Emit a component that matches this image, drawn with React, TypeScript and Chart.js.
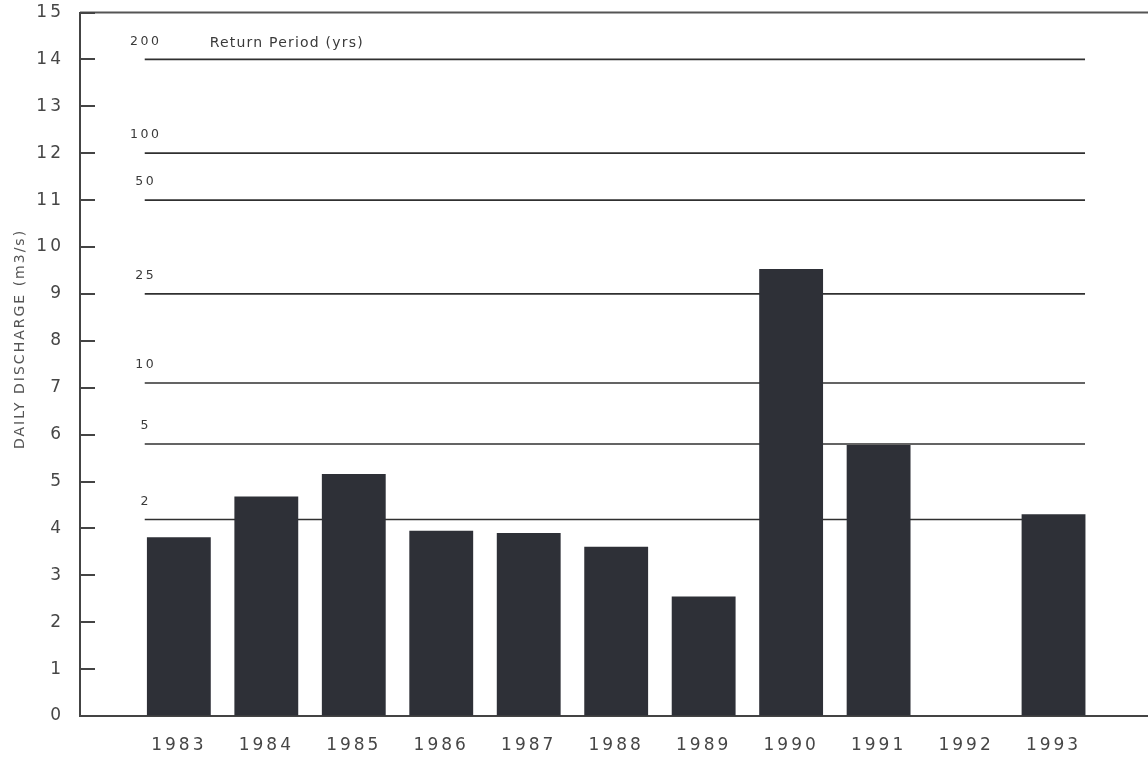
import React, { useEffect, useRef } from 'react';
import { Chart, registerables } from 'chart.js';

Chart.register(...registerables);

// ---- data ----
const years = [1983, 1984, 1985, 1986, 1987, 1988, 1989, 1990, 1991, 1992, 1993];
const discharge = [3.81, 4.68, 5.16, 3.95, 3.9, 3.61, 2.55, 9.53, 5.78, 0, 4.3];
const returnPeriodLabels = ['200', '100', '50', '25', '10', '5', '2'];
const returnPeriodDischarge = [14, 12, 11, 9, 7.1, 5.8, 4.19];
const returnPeriodTitle = 'Return Period (yrs)';
const yAxisTitle = 'DAILY DISCHARGE (m3/s)';

// axis extents (in data units)
const X_MIN = 1981.87;
const X_MAX = 1994.08;
const LINE_START = 1982.61;
const LINE_END = 1993.36;
const Y_MIN = 0;
const Y_MAX = 15;

const TEXT_COLOR = '#464646';
const AXIS_COLOR = '#444444';
const BAR_COLOR = '#2e3037';
const LINE_COLOR = '#303030';

const decorPlugin = {
  id: 'decor',
  beforeDraw(chart: any) {
    (chart.ctx as any).letterSpacing = '3px';
  },
  afterDraw(chart: any) {
    const ctx = chart.ctx as any;
    const { chartArea } = chart;
    const x = chart.scales.x;
    const y = chart.scales.y;
    ctx.save();
    // top border
    ctx.strokeStyle = '#555555';
    ctx.lineWidth = 2;
    ctx.beginPath();
    ctx.moveTo(chartArea.left, chartArea.top);
    ctx.lineTo(chart.width, chartArea.top);
    ctx.stroke();
    // inward tick marks on y axis
    ctx.strokeStyle = AXIS_COLOR;
    ctx.lineWidth = 2;
    y.ticks.forEach((t: any) => {
      const py = Math.round(y.getPixelForValue(t.value));
      ctx.beginPath();
      ctx.moveTo(chartArea.left, py);
      ctx.lineTo(chartArea.left + 15, py);
      ctx.stroke();
    });
    // return period labels
    ctx.fillStyle = '#3a3a3a';
    ctx.textBaseline = 'middle';
    ctx.textAlign = 'center';
    ctx.font = '12.5px "DejaVu Sans"';
    ctx.letterSpacing = '2.5px';
    const lx = x.getPixelForValue(LINE_START);
    returnPeriodLabels.forEach((lab, i) => {
      const py = y.getPixelForValue(returnPeriodDischarge[i]) - 18;
      ctx.fillText(lab, lx + 1, py);
    });
    // return period title
    ctx.textAlign = 'left';
    ctx.font = '14px "DejaVu Sans"';
    ctx.letterSpacing = '1.2px';
    ctx.fillText(returnPeriodTitle, lx + 65, y.getPixelForValue(returnPeriodDischarge[0]) - 16);
    // y axis title
    ctx.translate(20, 339);
    ctx.rotate(-Math.PI / 2);
    ctx.textAlign = 'center';
    ctx.font = '14px "DejaVu Sans"';
    ctx.letterSpacing = '2px';
    ctx.fillStyle = '#555555';
    ctx.fillText(yAxisTitle, 0, 0);
    ctx.restore();
    ctx.letterSpacing = '0px';
  },
};

export default function App() {
  const canvasRef = useRef<HTMLCanvasElement | null>(null);

  useEffect(() => {
    const canvas = canvasRef.current;
    if (!canvas) return;
    const lineDatasets = returnPeriodDischarge.map((v, i) => ({
      type: 'line' as const,
      label: returnPeriodLabels[i],
      data: [
        { x: LINE_START, y: v },
        { x: LINE_END, y: v },
      ],
      borderColor: LINE_COLOR,
      borderWidth: 1.7,
      pointRadius: 0,
      fill: false,
      order: 2,
    }));
    const chart = new Chart(canvas, {
      type: 'bar',
      data: {
        datasets: [
          {
            type: 'bar' as const,
            label: 'Daily discharge',
            data: years.map((yr, i) => ({ x: yr, y: discharge[i] })),
            backgroundColor: BAR_COLOR,
            borderWidth: 0,
            categoryPercentage: 1,
            barPercentage: 0.73,
            order: 0,
          },
          ...lineDatasets,
        ] as any,
      },
      options: {
        responsive: false,
        animation: false,
        layout: { padding: { top: 12.5, left: 0, right: 0, bottom: 0 } },
        plugins: {
          legend: { display: false },
          tooltip: { enabled: false },
        },
        scales: {
          x: {
            type: 'linear',
            offset: false,
            bounds: 'data',
            min: X_MIN,
            max: X_MAX,
            afterBuildTicks: (scale: any) => {
              scale.ticks = years.map((v) => ({ value: v }));
              scale.min = X_MIN;
              scale.max = X_MAX;
            },
            afterFit: (scale: any) => {
              scale.height = 44;
              scale.paddingLeft = 0;
              scale.paddingRight = 0;
            },
            grid: { drawOnChartArea: false, drawTicks: false, offset: false },
            border: { display: true, color: AXIS_COLOR, width: 2 },
            ticks: {
              padding: 19,
              autoSkip: false,
              maxRotation: 0,
              color: TEXT_COLOR,
              font: { family: 'DejaVu Sans', size: 17 },
              callback: (v: any) => String(v),
            },
          },
          y: {
            type: 'linear',
            min: Y_MIN,
            max: Y_MAX,
            afterFit: (scale: any) => {
              scale.width = 80;
              scale.paddingTop = 0;
              scale.paddingBottom = 0;
            },
            grid: { drawOnChartArea: false, drawTicks: false },
            border: { display: true, color: AXIS_COLOR, width: 2 },
            ticks: {
              stepSize: 1,
              padding: 16,
              color: TEXT_COLOR,
              font: { family: 'DejaVu Sans', size: 17 },
            },
          },
        },
      } as any,
      plugins: [decorPlugin],
    });
    return () => chart.destroy();
  }, []);

  return (
    <div style={{ position: 'fixed', left: 0, top: 0, width: 1148, height: 760, background: '#ffffff' }}>
      <canvas ref={canvasRef} width={1148} height={760} style={{ display: 'block' }} />
    </div>
  );
}
